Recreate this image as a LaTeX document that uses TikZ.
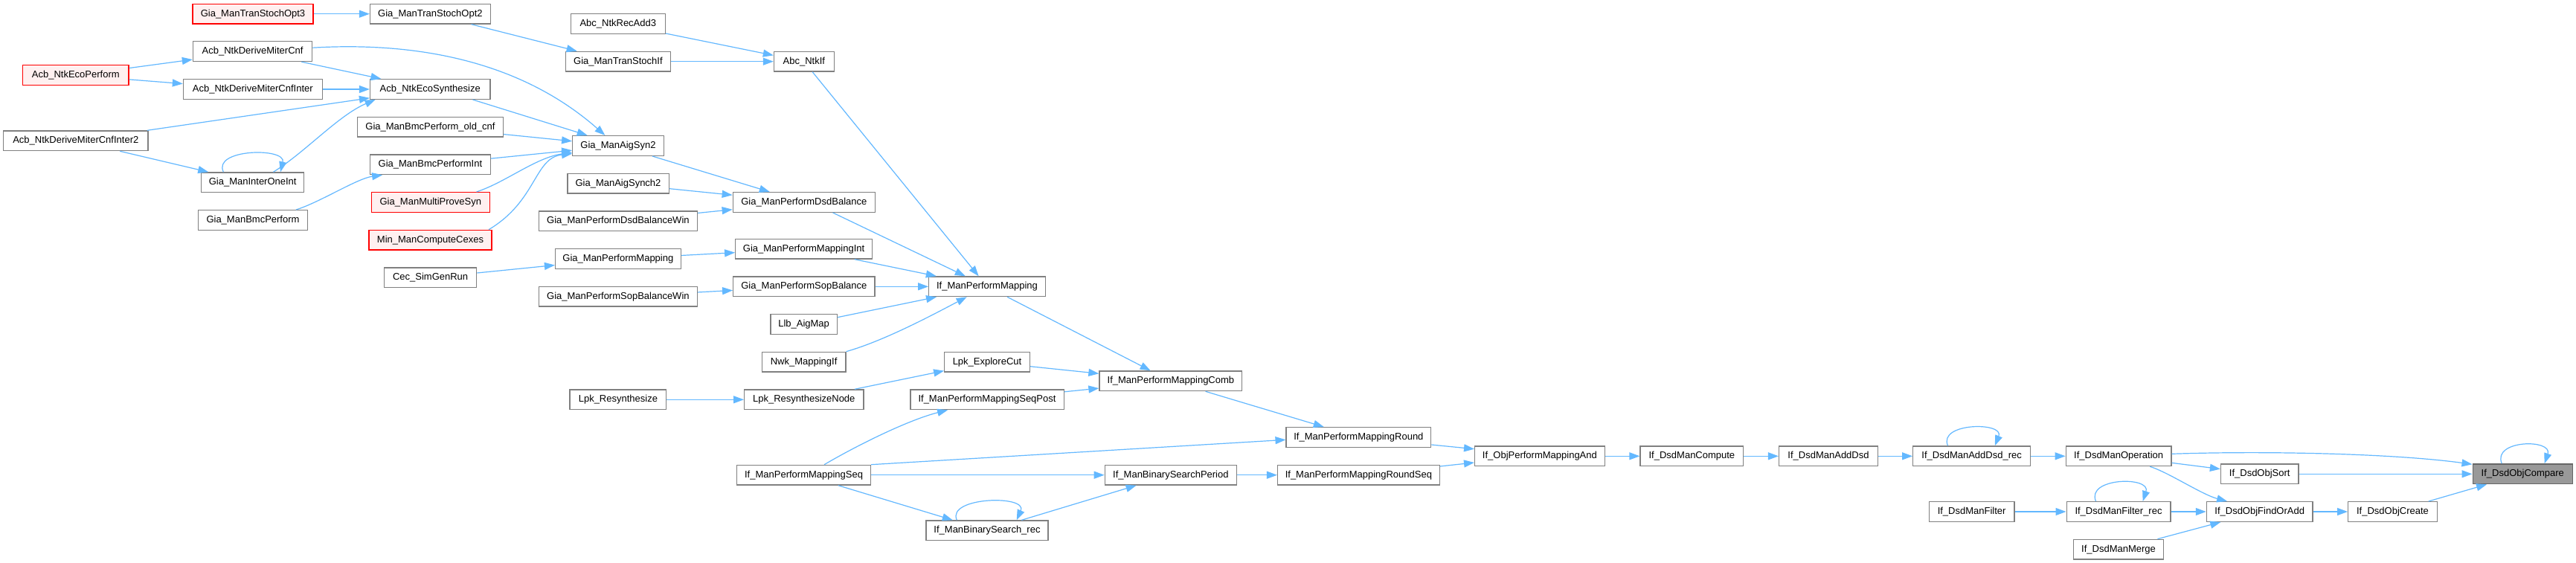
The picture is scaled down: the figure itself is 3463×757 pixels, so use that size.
\documentclass[tikz,border=0pt]{standalone}
\usepackage{fontspec}
\setmainfont{Liberation Sans}
\usetikzlibrary{arrows.meta,calc}
\definecolor{edgec}{HTML}{63B8FF}
\definecolor{boxc}{HTML}{808080}
\definecolor{redfill}{HTML}{FFF0F0}
\definecolor{hlfill}{HTML}{999999}
\definecolor{hlborder}{HTML}{666666}
\begin{document}
\begin{tikzpicture}[x=1pt,y=-1pt,
 fn/.style={draw=boxc, fill=white, line width=1.3pt, rectangle, minimum height=26.7pt, inner sep=0pt, font=\fontsize{13pt}{15pt}\selectfont},
 redfn/.style={fn, draw=red, fill=redfill},
 hlfn/.style={fn, draw=hlborder, fill=hlfill},
 callarrow/.style={draw=edgec, line width=1.2pt, -{Triangle[length=14pt,width=10pt]}}]
\fill[white] (0,0) rectangle (3463,757);
\useasboundingbox (0,0) rectangle (3463,757);

% column 1
\node[redfn, minimum width=142.4pt] (ecoperf) at (101.8,101.2) {Acb\_NtkEcoPerform};
\node[fn, minimum width=194.4pt] (cnfinter2) at (101.8,189.3) {Acb\_NtkDeriveMiterCnfInter2};
% column 2
\node[redfn, minimum width=162pt] (opt3) at (340,18.7) {Gia\_ManTranStochOpt3};
\node[fn, minimum width=160.3pt] (cnf) at (339.6,69.2) {Acb\_NtkDeriveMiterCnf};
\node[fn, minimum width=186.7pt] (cnfinter) at (339.8,120) {Acb\_NtkDeriveMiterCnfInter};
\node[fn, minimum width=138.1pt] (interone) at (339.7,245.3) {Gia\_ManInterOneInt};
\node[fn, minimum width=146.6pt] (bmcperf) at (340,296) {Gia\_ManBmcPerform};
% column 3
\node[fn, minimum width=161.7pt] (opt2) at (578.4,18.7) {Gia\_ManTranStochOpt2};
\node[fn, minimum width=161.3pt] (ecosynth) at (578.2,120) {Acb\_NtkEcoSynthesize};
\node[fn, minimum width=195.7pt] (oldcnf) at (578.5,170.7) {Gia\_ManBmcPerform\_old\_cnf};
\node[fn, minimum width=161.7pt] (bmcint) at (578.4,221.3) {Gia\_ManBmcPerformInt};
\node[redfn, minimum width=158.7pt] (multiprove) at (578.8,272) {Gia\_ManMultiProveSyn};
\node[redfn, minimum width=165pt] (mincex) at (578.5,322.7) {Min\_ManComputeCexes};
\node[fn, minimum width=124pt] (cecsim) at (578.6,373.3) {Cec\_SimGenRun};
% column 4
\node[fn, minimum width=126.7pt] (recadd3) at (830.8,32) {Abc\_NtkRecAdd3};
\node[fn, minimum width=141.2pt] (tranif) at (830.9,82.7) {Gia\_ManTranStochIf};
\node[fn, minimum width=122.5pt] (aigsyn2) at (831,196) {Gia\_ManAigSyn2};
\node[fn, minimum width=136.3pt] (aigsynch2) at (831,246.7) {Gia\_ManAigSynch2};
\node[fn, minimum width=213.1pt] (dsdbalwin) at (830.9,297.3) {Gia\_ManPerformDsdBalanceWin};
\node[fn, minimum width=168.7pt] (giamap) at (830.9,348) {Gia\_ManPerformMapping};
\node[fn, minimum width=213.1pt] (sopbalwin) at (830.9,398.7) {Gia\_ManPerformSopBalanceWin};
\node[fn, minimum width=129.7pt] (lpkres) at (830.9,537.3) {Lpk\_Resynthesize};
% column 5
\node[fn, minimum width=80.7pt] (ntkif) at (1080.8,82.7) {Abc\_NtkIf};
\node[fn, minimum width=191pt] (dsdbal) at (1080.8,272) {Gia\_ManPerformDsdBalance};
\node[fn, minimum width=183.7pt] (mapint) at (1080.6,334.7) {Gia\_ManPerformMappingInt};
\node[fn, minimum width=190.2pt] (sopbal) at (1080.8,385.3) {Gia\_ManPerformSopBalance};
\node[fn, minimum width=89.5pt] (llb) at (1080.6,436) {Llb\_AigMap};
\node[fn, minimum width=112.5pt] (nwk) at (1080.6,486.7) {Nwk\_MappingIf};
\node[fn, minimum width=160.3pt] (lpknode) at (1080.8,537.3) {Lpk\_ResynthesizeNode};
\node[fn, minimum width=179.9pt] (mapseq) at (1080.6,638.7) {If\_ManPerformMappingSeq};
% column 6
\node[fn, minimum width=156.5pt] (ifpm) at (1327,385.3) {If\_ManPerformMapping};
\node[fn, minimum width=114.5pt] (explore) at (1327,486.7) {Lpk\_ExploreCut};
\node[fn, minimum width=206.3pt] (seqpost) at (1327,537.3) {If\_ManPerformMappingSeqPost};
\node[fn, minimum width=164.1pt] (binrec) at (1327,713.3) {If\_ManBinarySearch\_rec};
% column 7
\node[fn, minimum width=191.8pt] (comb) at (1573.9,512.3) {If\_ManPerformMappingComb};
\node[fn, minimum width=177.2pt] (period) at (1573.9,638.7) {If\_ManBinarySearchPeriod};
% column 8
\node[fn, minimum width=194.6pt] (round) at (1826.4,588) {If\_ManPerformMappingRound};
\node[fn, minimum width=217.6pt] (roundseq) at (1826.4,638.7) {If\_ManPerformMappingRoundSeq};
% columns 9-16
\node[fn, minimum width=174.5pt] (objand) at (2069.9,613.3) {If\_ObjPerformMappingAnd};
\node[fn, minimum width=138.7pt] (compute) at (2274.4,613.3) {If\_DsdManCompute};
\node[fn, minimum width=132.8pt] (adddsd) at (2458,613.3) {If\_DsdManAddDsd};
\node[fn, minimum width=157.7pt] (adddsdrec) at (2650.6,613.3) {If\_DsdManAddDsd\_rec};
\node[fn, minimum width=114.9pt] (filter) at (2650.6,688) {If\_DsdManFilter};
\node[fn, minimum width=141.6pt] (operation) at (2848.1,613.3) {If\_DsdManOperation};
\node[fn, minimum width=139.7pt] (filterrec) at (2848,688) {If\_DsdManFilter\_rec};
\node[fn, minimum width=121.3pt] (merge) at (2848,738.7) {If\_DsdManMerge};
\node[fn, minimum width=104.4pt] (objsort) at (3037.7,637.3) {If\_DsdObjSort};
\node[fn, minimum width=142.6pt] (findoradd) at (3037.7,688) {If\_DsdObjFindOrAdd};
\node[fn, minimum width=119.6pt] (create) at (3216.5,688) {If\_DsdObjCreate};
\node[hlfn, minimum width=134.3pt] (compare) at (3391.3,637.3) {If\_DsdObjCompare};

% straight connectors
\draw[callarrow] (opt3) -- (opt2);
\draw[callarrow] (opt2) -- (tranif);
\draw[callarrow] (recadd3) -- (ntkif);
\draw[callarrow] (tranif) -- (ntkif);
\draw[callarrow] (ntkif) -- (ifpm);
\draw[callarrow] (ecoperf) -- (cnf);
\draw[callarrow] (ecoperf) -- (cnfinter);
\draw[callarrow] (cnf) -- (ecosynth);
\draw[callarrow] (cnfinter) -- (ecosynth);
\draw[callarrow] (cnfinter2) -- (ecosynth);
\draw[callarrow] (cnfinter2) -- (interone);
\draw[callarrow] ($(ecosynth.south)+(57.3,0)$) -- ($(aigsyn2.north)+(-41.3,0)$);
\draw[callarrow] (oldcnf) -- (aigsyn2);
\draw[callarrow] (bmcint) -- (aigsyn2);
\draw[callarrow] (aigsyn2) -- (dsdbal);
\draw[callarrow] (aigsynch2) -- (dsdbal);
\draw[callarrow] (dsdbalwin) -- (dsdbal);
\draw[callarrow] ($(dsdbal.south)+(38.8,0)$) -- ($(ifpm.north)+(-29.2,0)$);
\draw[callarrow] (cecsim) -- (giamap);
\draw[callarrow] (giamap) -- (mapint);
\draw[callarrow] (mapint) -- (ifpm);
\draw[callarrow] (sopbalwin) -- (sopbal);
\draw[callarrow] (sopbal) -- (ifpm);
\draw[callarrow] (llb) -- (ifpm);
\draw[callarrow] (ifpm) -- (comb);
\draw[callarrow] (lpkres) -- (lpknode);
\draw[callarrow] (lpknode) -- (explore);
\draw[callarrow] (explore) -- (comb);
\draw[callarrow] (seqpost) -- (comb);
\draw[callarrow] (comb) -- (round);
\draw[callarrow] (mapseq) -- (period);
\draw[callarrow] (mapseq) -- (binrec);
\draw[callarrow] (binrec) -- (period);
\draw[callarrow] (period) -- (roundseq);
\draw[callarrow] (mapseq.north east) -- ($(round.west)+(0,3.3)$);
\draw[callarrow] ($(round.east)+(0,10)$) -- ($(objand.west)+(0,-9.6)$);
\draw[callarrow] ($(roundseq.east)+(0,-11.7)$) -- ($(objand.west)+(0,8.7)$);
\draw[callarrow] (objand) -- (compute);
\draw[callarrow] (compute) -- (adddsd);
\draw[callarrow] (adddsd) -- (adddsdrec);
\draw[callarrow] (adddsdrec) -- (operation);
\draw[callarrow] (operation) -- (objsort);
\draw[callarrow] (filter) -- (filterrec);
\draw[callarrow] (filterrec) -- (findoradd);
\draw[callarrow] (merge) -- (findoradd);
\draw[callarrow] (objsort) -- (compare);
\draw[callarrow] (findoradd) -- (create);
\draw[callarrow] (create) -- (compare);

% curved connectors
\draw[callarrow] ($(cnf.east)+(0,-5)$) .. controls (560,56) and (700,82) .. ($(aigsyn2.north)+(-17.6,0)$);
\draw[callarrow] ($(interone.north)+(-39.3,0)$) .. controls (285,200) and (385,198) .. ($(interone.north)+(37.3,0)$);
\draw[callarrow] ($(interone.north)+(27.7,0)$) .. controls (410,205) and (455,155) .. ($(ecosynth.south west)+(7.7,0)$);
\draw[callarrow] ($(bmcperf.north)+(58,0)$) .. controls (430,272) and (480,240) .. ($(bmcint.south west)+(17.2,0)$);
\draw[callarrow] ($(multiprove.north west)+(141.8,0)$) .. controls (680,245) and (720,212) .. ($(aigsyn2.west)+(0,9)$);
\draw[callarrow] ($(mincex.north east)+(-4.6,0)$) .. controls (722,270) and (718,212) .. ($(aigsyn2.west)+(0,10.7)$);
\draw[callarrow] (nwk.north east) .. controls (1190,458) and (1260,420) .. ($(ifpm.south)+(-27.3,0)$);
\draw[callarrow] ($(mapseq.north)+(27.5,0)$) .. controls (1150,600) and (1220,565) .. ($(seqpost.south west)+(50.9,0)$);
\draw[callarrow] ($(binrec.north)+(-40.7,0)$) .. controls (1272,668) and (1382,665) .. ($(binrec.north)+(39.7,0)$);
\draw[callarrow] ($(adddsdrec.north)+(-32.1,0)$) .. controls (2605,568) and (2695,567) .. ($(adddsdrec.north)+(31.1,0)$);
\draw[callarrow] ($(operation.east)+(0,-3)$) .. controls (3050,606) and (3220,610) .. ($(compare.west)+(0,-13)$);
\draw[callarrow] ($(operation.south)+(42.1,0)$) .. controls (2915,635) and (2960,665) .. ($(findoradd.north)+(-43.6,0)$);
\draw[callarrow] ($(filterrec.north)+(-30.5,0)$) .. controls (2804,642) and (2892,640) .. ($(filterrec.north)+(32.6,0)$);
\draw[callarrow] ($(compare.north)+(-28.1,0)$) .. controls (3350,591) and (3432,590) .. ($(compare.north)+(29.3,0)$);
\end{tikzpicture}
\end{document}
